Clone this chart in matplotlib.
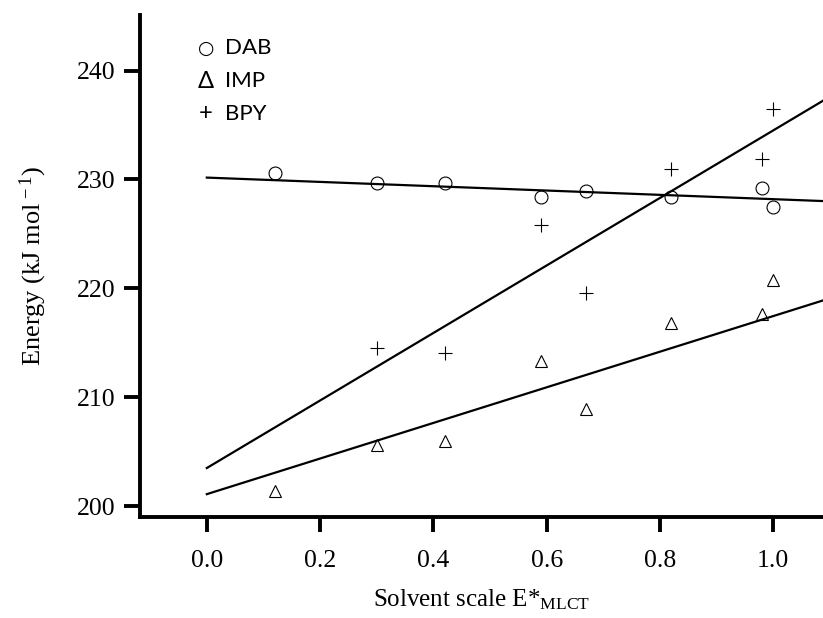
import matplotlib
matplotlib.use("Agg")
from matplotlib import pyplot as plt
import numpy as np

plt.rcParams['font.family'] = ['Liberation Serif', 'DejaVu Serif']
plt.rcParams['mathtext.fontset'] = 'custom'
plt.rcParams['mathtext.rm'] = 'Liberation Serif'
plt.rcParams['mathtext.it'] = 'Liberation Serif:italic'

# solvent scale values and energies (kJ/mol)
x_dab = [0.12, 0.30, 0.42, 0.59, 0.67, 0.82, 0.98, 1.00]
e_dab = [230.6, 229.7, 229.7, 228.4, 228.9, 228.4, 229.2, 227.5]

x_imp = [0.12, 0.30, 0.42, 0.59, 0.67, 0.82, 0.98, 1.00]
e_imp = [201.4, 205.6, 206.0, 213.3, 208.9, 216.8, 217.6, 220.8]

x_bpy = [0.30, 0.42, 0.59, 0.67, 0.82, 0.98, 1.00]
e_bpy = [214.5, 214.1, 225.8, 219.6, 231.0, 231.9, 236.5]

# linear fits (intercept, slope) as drawn in the original
fit_dab = (230.17, -1.98)
fit_imp = (201.1, 16.35)
fit_bpy = (203.5, 31.0)

xticks = [0.0, 0.2, 0.4, 0.6, 0.8, 1.0]
yticks = [200, 210, 220, 230, 240]

fig = plt.figure(figsize=(8.23, 6.18), dpi=100)
ax = fig.add_axes([0.1701, 0.1634, 0.8299, 0.8123])

xlim = (-0.118, 1.088)
xfit = np.array([0.0, xlim[1]])
series = [(x_dab, e_dab, fit_dab, 'o', 9.3),
          (x_imp, e_imp, fit_imp, '^', 9),
          (x_bpy, e_bpy, fit_bpy, '+', 9.5)]
for xs, ys, (b, k), mk, ms in series:
    ax.plot(xs, ys, linestyle='none', marker=mk, markersize=ms, markerfacecolor='none',
            markeredgecolor='black', markeredgewidth=0.8, clip_on=False)
    ax.plot(xfit, b + k * xfit, color='black', linewidth=1.6)

ax.set_xlim(*xlim)
ax.set_ylim(199.0, 245.1)
ax.set_xticks(xticks)
ax.set_xticklabels([f"{t:.1f}" for t in xticks])
ax.set_yticks(yticks)

for side in ['top', 'right']:
    ax.spines[side].set_visible(False)
for side in ['left', 'bottom']:
    ax.spines[side].set_linewidth(2.8)
ax.tick_params(axis='both', direction='out', width=2.8, labelsize=18.5)
ax.tick_params(axis='x', length=11, pad=13)
ax.tick_params(axis='y', length=11.5, pad=6)

ax.set_xlabel(r"Solvent scale E*$_{\mathrm{MLCT}}$", fontsize=18, labelpad=11)
ax.set_ylabel(r"Energy (kJ mol$^{\,-1}$)", fontsize=19, labelpad=20)

# legend written as text symbols
legend_rows = [("○", "DAB", 13.5, 'DejaVu Sans'), ("Δ", "IMP", 17, 'Lato'), ("+", "BPY", 17, 'Lato')]
for i, (sym, name, fs, fam) in enumerate(legend_rows):
    y = 0.934 - i * 0.0655
    ax.text(0.0966, y, sym, transform=ax.transAxes, fontsize=fs, va='center', ha='center',
            family=[fam, 'DejaVu Sans'])
    ax.text(0.125, y, name, transform=ax.transAxes, fontsize=16, va='center', ha='left',
            family=['Lato', 'DejaVu Sans'])

fig.savefig("out.png", dpi=100)
